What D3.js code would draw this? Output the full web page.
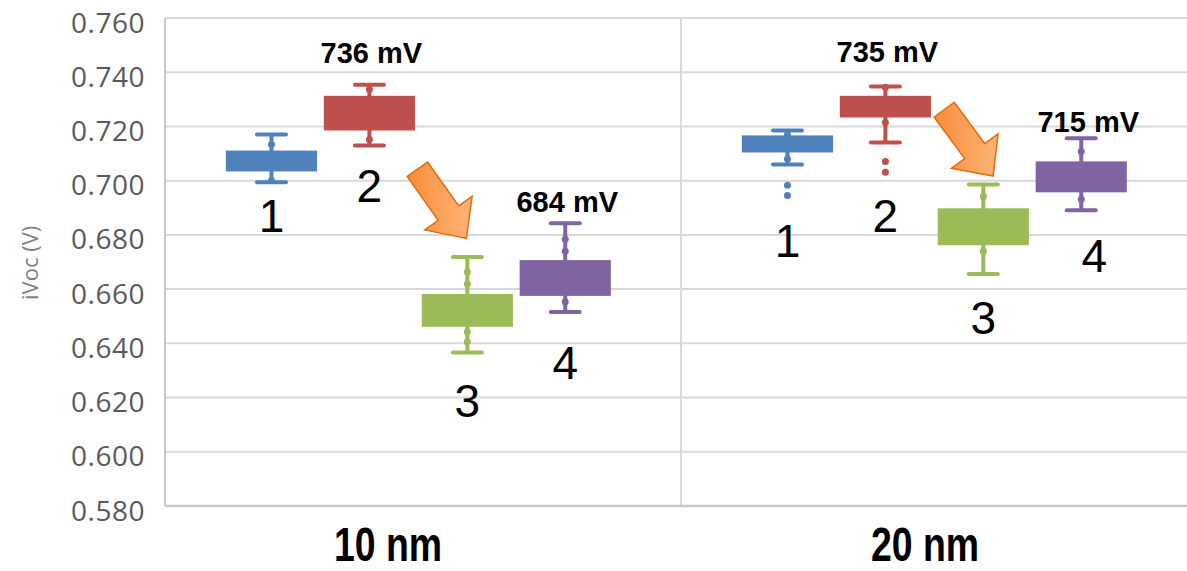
<!DOCTYPE html>
<html>
<head>
<meta charset="utf-8">
<script src="https://cdn.jsdelivr.net/npm/d3@7"></script>
<style>
  html, body { margin: 0; padding: 0; background: #fff; }
  svg { display: block; }
</style>
</head>
<body>
<div id="chart"></div>
<script>
// categories and samples
var categories = ["10 nm", "20 nm"];
var samples = ["1", "2", "3", "4"];
var sampleColors = ["#4f81bd", "#c0504d", "#9bbb59", "#8064a2"];

// box values [min, q1, q3, max] per sample
var boxes10 = [
    [0.6994, 0.7034, 0.7111, 0.7170],
    [0.7130, 0.7185, 0.7313, 0.7354],
    [0.6366, 0.6461, 0.6582, 0.6718],
    [0.6516, 0.6575, 0.6707, 0.6843]
];
var boxes20 = [
    [0.7060, 0.7104, 0.7167, 0.7185],
    [0.7141, 0.7233, 0.7313, 0.7347],
    [0.6656, 0.6762, 0.6898, 0.6986],
    [0.6891, 0.6957, 0.7071, 0.7156]
];
// inner points on the whiskers
var points10 = [[0.7133, 0.7001], [0.7336, 0.7152], [0.6663, 0.6619, 0.6443, 0.6406], [0.6784, 0.6740, 0.6553]];
var points20 = [[0.7170, 0.7080], [0.7345, 0.7215], [0.6942, 0.6740], [0.7108, 0.6931]];
// outliers
var outliers10 = [[], [], [], []];
var outliers20 = [[0.6983, 0.6945], [0.7071, 0.7031], [], []];

// y ticks
var yTicks = [0.580, 0.600, 0.620, 0.640, 0.660, 0.680, 0.700, 0.720, 0.740, 0.760];
var yTitle = "iVoc (V)";

// sample number labels (value of baseline)
var numberBase10 = [0.6810, 0.6920, 0.6130, 0.6270];
var numberBase20 = [0.6718, 0.6810, 0.6435, 0.6663];

// mV notes: category, sample, baseline value, text
var noteCat = [0, 1, 0, 1];
var noteSample = [1, 1, 3, 3];
var noteValue = [0.7435, 0.7438, 0.6884, 0.7181];
var noteText = ["736 mV", "735 mV", "684 mV", "715 mV"];

// arrows: category, [tail sample pos, tail value], [tip sample pos, tip value]
var arrowCat = [0, 1];
var arrowTail = [[1.49, 0.7042], [1.60, 0.7262]];
var arrowTip = [[1.99, 0.6787], [2.10, 0.7017]];

var W = 1187, H = 571;
var margin = { left: 165, top: 18, bottom: 63 };
var catWidth = 516;

var svg = d3.select("#chart").append("svg")
    .attr("width", W)
    .attr("height", H);

var defs = svg.append("defs");
var grad = defs.append("linearGradient")
    .attr("id", "arrowGrad")
    .attr("x1", 1).attr("y1", 0).attr("x2", 0).attr("y2", 1);
grad.append("stop").attr("offset", "0%").attr("stop-color", "#fdbf8c");
grad.append("stop").attr("offset", "100%").attr("stop-color", "#f7862a");

var y = d3.scaleLinear()
    .domain([0.58, 0.76])
    .range([H - margin.bottom - 2, margin.top]);

var x = d3.scaleBand()
    .domain(categories)
    .range([margin.left, margin.left + catWidth * categories.length]);

var xInner = d3.scaleBand()
    .domain(samples)
    .range([catWidth * 0.118, catWidth * 0.864])
    .paddingInner(0.069);

// center x of (category, fractional sample index)
function cx(ci, s) {
    return x(categories[ci]) + xInner(samples[0]) + xInner.bandwidth() / 2 + s * xInner.step();
}

// grid
svg.append("g").selectAll("line")
    .data(yTicks.slice(1))
    .enter().append("line")
    .attr("x1", margin.left).attr("x2", W)
    .attr("y1", function (d) { return y(d); })
    .attr("y2", function (d) { return y(d); })
    .attr("stroke", "#d9d9d9")
    .attr("stroke-width", 2);

// category divider
svg.append("line")
    .attr("x1", x(categories[1])).attr("x2", x(categories[1]))
    .attr("y1", y(0.76)).attr("y2", y(0.58))
    .attr("stroke", "#d9d9d9")
    .attr("stroke-width", 2);

// axes lines
svg.append("line")
    .attr("x1", margin.left).attr("x2", margin.left)
    .attr("y1", y(0.76)).attr("y2", y(0.58))
    .attr("stroke", "#c8c8c8").attr("stroke-width", 2);
svg.append("line")
    .attr("x1", margin.left).attr("x2", W)
    .attr("y1", y(0.58)).attr("y2", y(0.58))
    .attr("stroke", "#c8c8c8").attr("stroke-width", 2.5);

// y axis labels
var yAxis = d3.axisLeft(y)
    .tickValues(yTicks)
    .tickFormat(d3.format(".3f"))
    .tickSize(0)
    .tickPadding(20);
var gy = svg.append("g")
    .attr("transform", "translate(" + margin.left + ",0)")
    .call(yAxis);
gy.select(".domain").remove();
gy.selectAll("text")
    .attr("dy", "0.5em")
    .attr("font-family", "Open Sans, sans-serif")
    .attr("font-size", "28px")
    .attr("letter-spacing", "0.5px")
    .attr("fill", "#595959");

svg.append("text")
    .attr("transform", "translate(38," + (y(0.68) + 28) + ") rotate(-90)")
    .attr("text-anchor", "middle")
    .attr("font-family", "Open Sans, sans-serif")
    .attr("font-size", "22px")
    .attr("fill", "#7f7f7f")
    .text(yTitle);

// boxes
function drawGroup(ci, boxes, points, outliers) {
    var g = svg.append("g");
    boxes.forEach(function (b, i) {
        var c = cx(ci, i);
        var col = sampleColors[i];
        var bw = xInner.bandwidth();
        var capW = 29;
        g.append("line")
            .attr("x1", c).attr("x2", c)
            .attr("y1", y(b[0])).attr("y2", y(b[3]))
            .attr("stroke", col).attr("stroke-width", 4);
        [b[0], b[3]].forEach(function (v) {
            g.append("line")
                .attr("x1", c - capW / 2).attr("x2", c + capW / 2)
                .attr("y1", y(v)).attr("y2", y(v))
                .attr("stroke", col).attr("stroke-width", 4)
                .attr("stroke-linecap", "round");
        });
        g.append("rect")
            .attr("x", c - bw / 2)
            .attr("y", y(b[2]))
            .attr("width", bw)
            .attr("height", y(b[1]) - y(b[2]))
            .attr("fill", col);
        points[i].forEach(function (v) {
            g.append("circle")
                .attr("cx", c).attr("cy", y(v)).attr("r", 3.5)
                .attr("fill", col);
        });
        outliers[i].forEach(function (v) {
            g.append("circle")
                .attr("cx", c).attr("cy", y(v)).attr("r", 3.5)
                .attr("fill", col);
        });
    });
}
drawGroup(0, boxes10, points10, outliers10);
drawGroup(1, boxes20, points20, outliers20);

// sample numbers
[numberBase10, numberBase20].forEach(function (arr, ci) {
    arr.forEach(function (v, i) {
        svg.append("text")
            .attr("x", cx(ci, i) + (ci == 1 && i == 3 ? 13 : 0))
            .attr("y", y(v))
            .attr("text-anchor", "middle")
            .attr("font-family", "Liberation Sans, Arial, sans-serif")
            .attr("font-size", "46px")
            .attr("fill", "#000")
            .text(samples[i]);
    });
});

// mV notes
noteText.forEach(function (t, k) {
    svg.append("text")
        .attr("x", cx(noteCat[k], noteSample[k]) + (k == 3 ? 7 : 2))
        .attr("y", y(noteValue[k]))
        .attr("text-anchor", "middle")
        .attr("font-family", "Liberation Sans, Arial, sans-serif")
        .attr("font-weight", "bold")
        .attr("font-size", "29px")
        .attr("fill", "#000")
        .text(t);
});

// arrows
arrowCat.forEach(function (ci, k) {
    var x0 = cx(ci, arrowTail[k][0]), y0 = y(arrowTail[k][1]);
    var x1 = cx(ci, arrowTip[k][0]), y1 = y(arrowTip[k][1]);
    var len = Math.sqrt((x1 - x0) * (x1 - x0) + (y1 - y0) * (y1 - y0));
    var ang = Math.atan2(y1 - y0, x1 - x0) * 180 / Math.PI;
    var sw = 12.5, hw = 29, hl = 31;
    var pts = [[0, -sw], [len - hl, -sw], [len - hl, -hw], [len, 0], [len - hl, hw], [len - hl, sw], [0, sw]];
    svg.append("polygon")
        .attr("transform", "translate(" + x0 + "," + y0 + ") rotate(" + ang + ")")
        .attr("points", pts.map(function (p) { return p.join(","); }).join(" "))
        .attr("fill", "url(#arrowGrad)")
        .attr("stroke", "#e46c0a")
        .attr("stroke-width", 1.5)
        .attr("stroke-linejoin", "miter");
});

// category labels
var catDx = [-35, -14];
categories.forEach(function (c, i) {
    var px = x(c) + catWidth / 2 + catDx[i];
    svg.append("text")
        .attr("transform", "translate(" + px + ",561) scale(0.78,1)")
        .attr("text-anchor", "middle")
        .attr("font-family", "Liberation Sans, Arial, sans-serif")
        .attr("font-weight", "bold")
        .attr("font-size", "48px")
        .attr("fill", "#000")
        .text(c);
});
</script>
</body>
</html>
